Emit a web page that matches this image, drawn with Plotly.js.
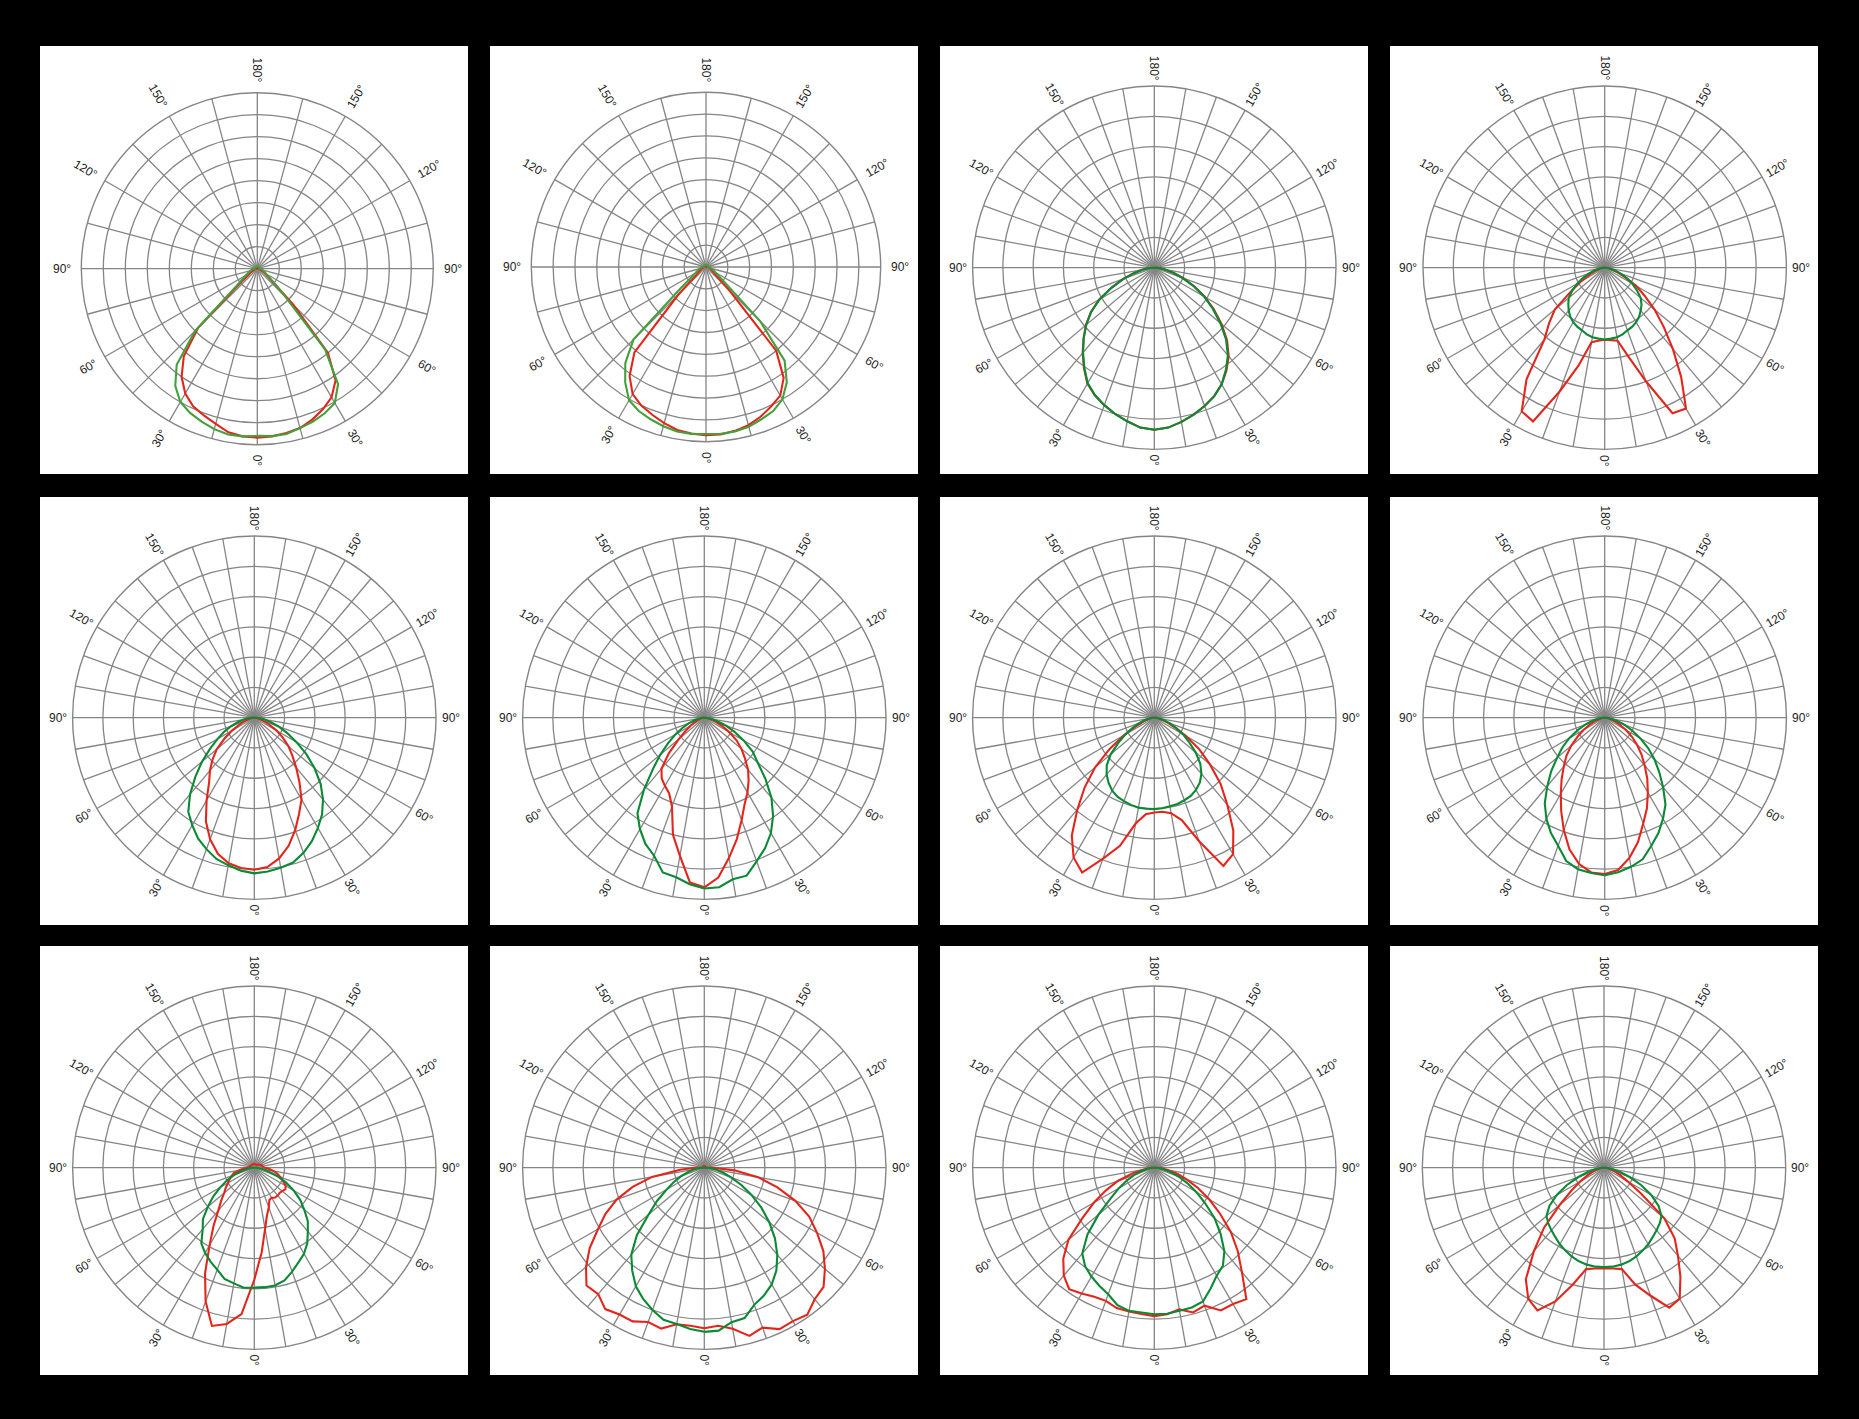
<!DOCTYPE html>
<html><head><meta charset="utf-8">
<script src="https://cdn.plot.ly/plotly-3.0.1.min.js"></script>
<style>html,body{margin:0;padding:0;background:#000;}#chart{width:1859px;height:1419px;}</style>
</head><body><div id="chart"></div>
<script>
// polar angle (deg): 0 = bottom, 90 = right, 180 = top, 270 = left
const theta = [0,5,10,15,20,25,30,35,40,45,50,55,60,65,70,75,80,85,90,
 95,100,105,110,115,120,125,130,135,140,145,150,155,160,165,170,175,180,
 185,190,195,200,205,210,215,220,225,230,235,240,245,250,255,260,265,
 270,275,280,285,290,295,300,305,310,315,320,325,330,335,340,345,350,355];

const angleTicks = [0,30,60,90,120,150,180,210,240,270,300,330];
const angleLabels = ['0°','30°','60°','90°','120°','150°','180°','150°','120°','90°','60°','30°'];

const p1Red = [7.68,7.65,7.58,7.5,7.3,7.05,6.75,6.2,5.0,2.3,0.9,0.5,0.35,0.25,0.2,0.15,0.12,0.1,0.1,
 0.05,0.05,0.05,0.05,0.05,0.05,0.05,0.05,0.05,0.05,0.05,0.05,0.05,0.05,0.05,0.05,0.05,0.05,0.05,0.05,0.05,0.05,0.05,0.05,0.05,0.05,0.05,0.05,0.05,0.05,0.05,0.05,0.05,0.05,0.05,
 0.1,0.1,0.12,0.15,0.2,0.25,0.35,0.5,1.0,3.8,5.2,6.0,6.55,6.9,7.1,7.3,7.55,7.65];
const p1Green = [7.6,7.64,7.63,7.5,7.4,7.25,7.05,6.4,4.8,1.8,1.0,0.6,0.45,0.38,0.3,0.25,0.2,0.17,0.15,
 0.1,0.1,0.1,0.1,0.1,0.1,0.1,0.1,0.1,0.1,0.1,0.1,0.1,0.1,0.1,0.1,0.1,0.1,0.1,0.1,0.1,0.1,0.1,0.1,0.1,0.1,0.1,0.1,0.1,0.1,0.1,0.1,0.1,0.1,0.1,
 0.2,0.22,0.25,0.3,0.35,0.45,0.6,0.8,1.3,4.0,5.7,6.5,7.0,7.23,7.4,7.55,7.65,7.65];

const p2Red = [7.7,7.7,7.62,7.5,7.3,7.05,6.8,6.2,5.0,1.5,0.6,0.4,0.3,0.25,0.2,0.17,0.15,0.12,0.1,
 0.05,0.05,0.05,0.05,0.05,0.05,0.05,0.05,0.05,0.05,0.05,0.05,0.05,0.05,0.05,0.05,0.05,0.05,0.05,0.05,0.05,0.05,0.05,0.05,0.05,0.05,0.05,0.05,0.05,0.05,0.05,0.05,0.05,0.05,0.05,
 0.1,0.12,0.15,0.17,0.2,0.25,0.3,0.4,0.6,1.8,5.1,6.1,6.72,7.0,7.2,7.4,7.58,7.66];
const p2Green = [7.65,7.67,7.65,7.57,7.42,7.28,7.0,6.45,5.6,3.5,1.2,0.7,0.5,0.4,0.3,0.25,0.2,0.17,0.15,
 0.1,0.1,0.1,0.1,0.1,0.1,0.1,0.1,0.1,0.1,0.1,0.1,0.1,0.1,0.1,0.1,0.1,0.1,0.1,0.1,0.1,0.1,0.1,0.1,0.1,0.1,0.1,0.1,0.1,0.1,0.1,0.1,0.1,0.1,0.1,
 0.2,0.22,0.25,0.3,0.35,0.45,0.55,0.8,1.5,4.7,5.75,6.45,7.05,7.28,7.42,7.55,7.65,7.67];

const p3Red = [5.35,5.3,5.17,5.02,4.86,4.68,4.45,4.15,3.82,3.4,2.9,2.4,1.92,1.45,1.02,0.65,0.35,0.15,0.05,
 0,0,0,0,0,0,0,0,0,0,0,0,0,0,0,0,0,0,0,0,0,0,0,0,0,0,0,0,0,0,0,0,0,0,0,
 0.05,0.2,0.4,0.7,1.1,1.55,2.1,2.55,2.95,3.3,3.68,4.05,4.42,4.65,4.83,5.0,5.15,5.3];
const p3Green = [5.35,5.3,5.17,5.02,4.86,4.68,4.45,4.12,3.78,3.35,2.85,2.35,1.9,1.42,1.0,0.65,0.35,0.15,0.05,
 0,0,0,0,0,0,0,0,0,0,0,0,0,0,0,0,0,0,0,0,0,0,0,0,0,0,0,0,0,0,0,0,0,0,0,
 0.05,0.2,0.4,0.7,1.1,1.55,2.08,2.55,2.93,3.3,3.66,4.03,4.4,4.64,4.83,5.0,5.15,5.3];

const p4Red = [2.38,2.4,2.45,3.05,4.0,5.3,5.37,4.4,3.5,2.75,2.15,1.6,1.2,0.75,0.45,0.25,0.15,0.1,0.05,
 0,0,0,0,0,0,0,0,0,0,0,0,0,0,0,0,0,0,0,0,0,0,0,0,0,0,0,0,0,0,0,0,0,0,0,
 0.05,0.1,0.15,0.2,0.35,0.55,0.9,1.35,2.15,2.6,3.1,4.5,5.48,5.6,4.35,3.35,2.5,2.42];
const p4Green = [2.37,2.35,2.33,2.28,2.2,2.15,2.08,1.98,1.85,1.72,1.55,1.3,1.05,0.8,0.55,0.35,0.2,0.1,0.05,
 0,0,0,0,0,0,0,0,0,0,0,0,0,0,0,0,0,0,0,0,0,0,0,0,0,0,0,0,0,0,0,0,0,0,0,
 0.05,0.1,0.2,0.35,0.55,0.8,1.05,1.3,1.55,1.7,1.85,1.98,2.08,2.15,2.2,2.28,2.33,2.35];

const p5Red = [5.02,4.95,4.72,4.38,3.95,3.5,3.12,2.6,2.15,1.78,1.48,1.15,0.85,0.55,0.35,0.2,0.12,0.08,0.05,
 0,0,0,0,0,0,0,0,0,0,0,0,0,0,0,0,0,0,0,0,0,0,0,0,0,0,0,0,0,0,0,0,0,0,0,
 0.05,0.08,0.12,0.2,0.35,0.55,0.85,1.2,1.62,1.95,2.28,2.6,3.15,3.78,4.27,4.65,4.88,4.98];
const p5Green = [5.14,5.1,5.03,4.95,4.75,4.5,4.2,3.9,3.53,3.1,2.6,2.1,1.6,1.2,0.85,0.55,0.35,0.2,0.1,
 0,0,0,0,0,0,0,0,0,0,0,0,0,0,0,0,0,0,0,0,0,0,0,0,0,0,0,0,0,0,0,0,0,0,0,
 0.1,0.2,0.35,0.55,0.8,1.1,1.4,1.78,2.25,2.75,3.3,3.8,4.1,4.4,4.62,4.83,4.95,5.07];

const p6Red = [5.6,5.3,4.7,4.15,3.6,3.15,2.85,2.55,2.25,1.9,1.6,1.3,0.95,0.65,0.4,0.25,0.12,0.08,0.05,
 0,0,0,0,0,0,0,0,0,0,0,0,0,0,0,0,0,0,0,0,0,0,0,0,0,0,0,0,0,0,0,0,0,0,0,
 0.05,0.07,0.1,0.15,0.25,0.35,0.5,0.75,1.1,1.65,2.2,2.45,2.6,2.75,3.12,4.0,4.63,5.46];
const p6Green = [5.64,5.62,5.42,5.4,5.05,4.75,4.4,3.96,3.45,2.85,2.3,1.95,1.5,1.1,0.75,0.45,0.25,0.1,0.05,
 0,0,0,0,0,0,0,0,0,0,0,0,0,0,0,0,0,0,0,0,0,0,0,0,0,0,0,0,0,0,0,0,0,0,0,
 0.05,0.1,0.2,0.35,0.55,0.8,1.1,1.45,1.9,2.4,3.1,3.85,4.25,4.6,4.85,5.29,5.35,5.52];

const p7Red = [3.13,3.12,3.2,3.5,4.35,5.4,5.2,4.55,3.75,3.1,2.4,1.8,1.2,0.75,0.45,0.25,0.15,0.1,0.05,
 0,0,0,0,0,0,0,0,0,0,0,0,0,0,0,0,0,0,0,0,0,0,0,0,0,0,0,0,0,0,0,0,0,0,0,
 0.05,0.1,0.15,0.25,0.4,0.65,1.15,1.8,2.55,3.25,3.95,4.75,5.33,5.64,4.95,4.38,3.55,3.2];
const p7Green = [3.02,3.0,2.97,2.95,2.9,2.85,2.75,2.62,2.42,2.15,1.78,1.4,1.1,0.8,0.55,0.35,0.2,0.1,0.05,
 0,0,0,0,0,0,0,0,0,0,0,0,0,0,0,0,0,0,0,0,0,0,0,0,0,0,0,0,0,0,0,0,0,0,0,
 0.05,0.1,0.2,0.35,0.55,0.8,1.1,1.45,1.88,2.22,2.45,2.63,2.78,2.88,2.93,2.98,3.02,3.02];

const p8Red = [5.16,5.05,4.7,4.25,3.72,3.3,2.85,2.45,2.05,1.72,1.4,1.1,0.8,0.55,0.35,0.2,0.12,0.08,0.05,
 0,0,0,0,0,0,0,0,0,0,0,0,0,0,0,0,0,0,0,0,0,0,0,0,0,0,0,0,0,0,0,0,0,0,0,
 0.05,0.08,0.12,0.2,0.35,0.55,0.8,1.1,1.45,1.79,2.1,2.48,2.9,3.4,3.95,4.5,4.9,5.13];
const p8Green = [5.2,5.12,5.0,4.84,4.5,4.2,3.85,3.5,3.0,2.55,2.15,1.75,1.35,1.0,0.7,0.45,0.25,0.12,0.05,
 0,0,0,0,0,0,0,0,0,0,0,0,0,0,0,0,0,0,0,0,0,0,0,0,0,0,0,0,0,0,0,0,0,0,0,
 0.05,0.12,0.25,0.45,0.7,1.0,1.35,1.7,2.05,2.5,2.95,3.45,3.85,4.2,4.5,4.9,5.08,5.15];

const p9Red = [3.7,2.8,2.05,1.62,1.4,1.18,1.15,1.2,1.2,1.18,1.2,1.25,1.2,1.05,0.92,0.8,0.65,0.5,0.35,
 0.3,0.28,0.26,0.24,0.22,0.2,0.18,0.16,0.14,0.12,0.12,0.12,0.12,0.12,0.12,0.12,0.12,0.12,0.12,0.12,0.12,0.12,0.12,0.12,0.12,0.12,0.12,0.13,0.13,0.14,0.14,0.15,0.16,0.17,0.18,
 0.2,0.35,0.5,0.7,0.8,0.9,1.0,1.15,1.3,1.55,1.85,2.35,2.95,3.85,4.7,5.41,5.24,4.85];
const p9Green = [3.96,3.96,3.95,3.85,3.65,3.45,3.28,3.05,2.75,2.5,2.15,1.85,1.5,1.15,0.8,0.5,0.3,0.12,0.05,
 0,0,0,0,0,0,0,0,0,0,0,0,0,0,0,0,0,0,0,0,0,0,0,0,0,0,0,0,0,0,0,0,0,0,0,
 0.05,0.12,0.25,0.45,0.7,1.0,1.3,1.65,2.0,2.4,2.65,3.05,3.25,3.42,3.58,3.8,3.88,3.98];

const p10Red = [5.3,5.24,5.4,5.75,5.62,5.88,5.85,5.93,5.67,5.57,5.2,4.8,4.3,3.82,3.2,2.5,1.8,1.0,0.3,
 0.05,0.05,0.05,0.05,0.05,0.05,0.05,0.05,0.05,0.05,0.05,0.05,0.05,0.05,0.05,0.05,0.05,0.05,0.05,0.05,0.05,0.05,0.05,0.05,0.05,0.05,0.05,0.05,0.05,0.05,0.05,0.05,0.05,0.05,0.05,
 0.3,0.8,1.75,2.45,3.08,3.6,4.05,4.62,5.1,5.5,5.45,5.7,5.6,5.6,5.42,5.5,5.25,5.24];
const p10Green = [5.42,5.4,5.18,5.14,4.82,4.66,4.45,4.15,3.75,3.3,2.8,2.3,1.8,1.35,0.95,0.65,0.4,0.2,0.1,
 0,0,0,0,0,0,0,0,0,0,0,0,0,0,0,0,0,0,0,0,0,0,0,0,0,0,0,0,0,0,0,0,0,0,0,
 0.1,0.2,0.35,0.55,0.8,1.1,1.43,1.9,2.4,3.15,3.75,4.15,4.52,4.78,5.0,5.2,5.24,5.35];

const p11Red = [4.9,4.86,4.75,4.95,4.85,5.2,5.2,5.3,4.5,3.9,3.3,2.65,2.1,1.6,1.15,0.8,0.45,0.25,0.1,
 0,0,0,0,0,0,0,0,0,0,0,0,0,0,0,0,0,0,0,0,0,0,0,0,0,0,0,0,0,0,0,0,0,0,0,
 0.1,0.2,0.35,0.75,1.28,1.75,2.3,2.9,3.7,4.25,4.65,4.9,4.8,4.7,4.68,4.8,4.82,4.85];
const p11Green = [4.84,4.84,4.8,4.78,4.7,4.4,4.12,3.95,3.6,3.1,2.6,2.05,1.6,1.2,0.85,0.55,0.3,0.12,0.05,
 0,0,0,0,0,0,0,0,0,0,0,0,0,0,0,0,0,0,0,0,0,0,0,0,0,0,0,0,0,0,0,0,0,0,0,
 0.05,0.12,0.25,0.45,0.7,1.0,1.35,1.75,2.4,3.12,3.7,3.98,4.15,4.3,4.45,4.7,4.8,4.8];

const p12Red = [3.32,3.34,3.4,4.0,4.5,5.1,5.0,4.4,3.8,3.3,2.6,1.5,0.9,0.6,0.4,0.25,0.15,0.1,0.05,
 0,0,0,0,0,0,0,0,0,0,0,0,0,0,0,0,0,0,0,0,0,0,0,0,0,0,0,0,0,0,0,0,0,0,0,
 0.05,0.1,0.15,0.25,0.4,0.6,0.9,1.3,1.9,2.8,3.6,4.5,5.0,5.2,4.7,4.0,3.4,3.34];
const p12Green = [3.28,3.28,3.25,3.2,3.12,3.02,2.92,2.8,2.7,2.6,2.48,2.2,1.8,1.35,0.9,0.55,0.3,0.12,0.05,
 0,0,0,0,0,0,0,0,0,0,0,0,0,0,0,0,0,0,0,0,0,0,0,0,0,0,0,0,0,0,0,0,0,0,0,
 0.05,0.12,0.3,0.55,0.9,1.35,1.8,2.2,2.48,2.6,2.7,2.8,2.92,3.02,3.12,3.2,3.25,3.28];

const W = 1859, H = 1419;
const RED = '#e3261c', GREEN_LIGHT = '#43a03a', GREEN_DARK = '#0a8a34', GRID = '#858585';

const panels = [
  {red:p1Red,  green:p1Green,  cx:257.3,  cy:268.7,  R:176,   rings:8, step:15, gcol:GREEN_LIGHT, gap:11},
  {red:p2Red,  green:p2Green,  cx:706.0,  cy:267.0,  R:174.7, rings:8, step:15, gcol:GREEN_LIGHT, gap:11},
  {red:p3Red,  green:p3Green,  cx:1154.3, cy:267.7,  R:181.7, rings:6, step:10, gcol:GREEN_DARK, gap:6},
  {red:p4Red,  green:p4Green,  cx:1604.7, cy:267.7,  R:181.7, rings:6, step:10, gcol:GREEN_DARK, gap:6},
  {red:p5Red,  green:p5Green,  cx:254.3,  cy:717.7,  R:181.7, rings:6, step:10, gcol:GREEN_DARK, gap:6},
  {red:p6Red,  green:p6Green,  cx:704.3,  cy:717.7,  R:181.7, rings:6, step:10, gcol:GREEN_DARK, gap:6},
  {red:p7Red,  green:p7Green,  cx:1154.3, cy:717.7,  R:181.7, rings:6, step:10, gcol:GREEN_DARK, gap:6},
  {red:p8Red,  green:p8Green,  cx:1604.7, cy:717.7,  R:181.7, rings:6, step:10, gcol:GREEN_DARK, gap:6},
  {red:p9Red,  green:p9Green,  cx:254.3,  cy:1167.7, R:181.7, rings:6, step:10, gcol:GREEN_DARK, gap:6},
  {red:p10Red, green:p10Green, cx:704.3,  cy:1167.7, R:181.7, rings:6, step:10, gcol:GREEN_DARK, gap:6},
  {red:p11Red, green:p11Green, cx:1154.3, cy:1167.7, R:181.7, rings:6, step:10, gcol:GREEN_DARK, gap:6},
  {red:p12Red, green:p12Green, cx:1604.0, cy:1167.7, R:181.7, rings:6, step:10, gcol:GREEN_DARK, gap:6}
];
const colX = [[40,468],[490,918],[940,1368],[1390,1818]];
const rowY = [[46,474],[497,925],[946,1375]];

const closeR = a => a.concat([a[0]]);
const thetaClosed = theta.concat([360]);

const data = [];
const layout = {
  width: W, height: H, margin:{l:0,r:0,t:0,b:0}, autosize:false,
  paper_bgcolor:'#000000', plot_bgcolor:'#000000', showlegend:false,
  shapes:[], annotations:[]
};

rowY.forEach(ry => colX.forEach(cxr => {
  layout.shapes.push({type:'rect', xref:'paper', yref:'paper', layer:'below',
    x0:cxr[0]/W, x1:cxr[1]/W, y0:1-ry[1]/H, y1:1-ry[0]/H,
    fillcolor:'#ffffff', line:{width:0}});
}));

panels.forEach((p, i) => {
  const key = i === 0 ? 'polar' : 'polar' + (i + 1);
  layout[key] = {
    domain:{x:[(p.cx-p.R)/W, (p.cx+p.R)/W], y:[1-(p.cy+p.R)/H, 1-(p.cy-p.R)/H]},
    bgcolor:'#ffffff',
    radialaxis:{range:[0,p.rings], tick0:0, dtick:1, showticklabels:false, ticks:'', showline:false,
      gridcolor:GRID, gridwidth:1.3},
    angularaxis:{rotation:270, direction:'counterclockwise', tick0:0, dtick:p.step,
      showticklabels:false, ticks:'', showline:true, linecolor:GRID, linewidth:1.4,
      gridcolor:GRID, gridwidth:1.3}
  };
  data.push({type:'scatterpolar', subplot:key, r:closeR(p.red), theta:thetaClosed, mode:'lines',
    line:{color:RED, width:2.1}, hoverinfo:'skip'});
  data.push({type:'scatterpolar', subplot:key, r:closeR(p.green), theta:thetaClosed, mode:'lines',
    line:{color:p.gcol, width:2.1}, hoverinfo:'skip'});

  angleTicks.forEach((t, k) => {
    const txt = angleLabels[k];
    const w = (txt.length - 1) * 6.6 + 4;
    const d = p.R + p.gap + w / 2;
    const rad = t * Math.PI / 180;
    const px = p.cx + d * Math.sin(rad);
    const py = p.cy + d * Math.cos(rad);
    let phi = Math.atan2(Math.cos(rad), Math.sin(rad)) * 180 / Math.PI;
    if (phi > 90.01) phi -= 180;
    if (phi <= -90.01) phi += 180;
    if (Math.abs(phi + 90) < 0.01) phi = 90;
    layout.annotations.push({xref:'paper', yref:'paper', x:px/W, y:1-py/H, text:txt,
      showarrow:false, textangle:phi, xanchor:'center', yanchor:'middle',
      font:{family:'Liberation Sans, Arial, sans-serif', size:12, color:'#222222'}});
  });
});

Plotly.newPlot('chart', data, layout, {staticPlot:true, displayModeBar:false});
</script>
</body></html>
